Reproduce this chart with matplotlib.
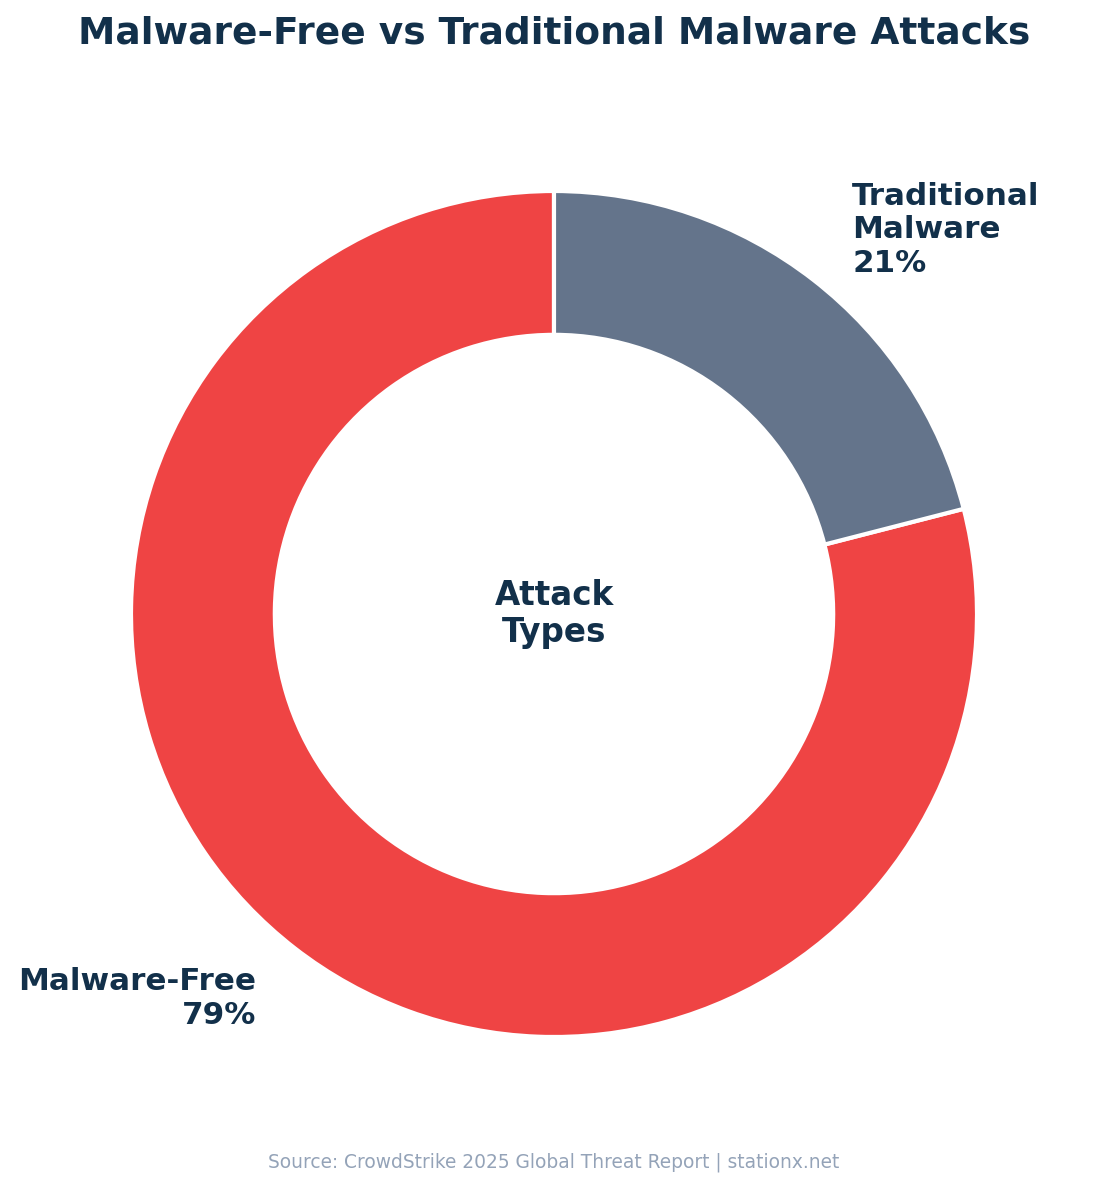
import matplotlib.pyplot as plt

labels = ["Malware-Free", "Traditional\nMalware"]
shares = [79, 21]
colors = ["#EF4444", "#64748B"]

title = "Malware-Free vs Traditional Malware Attacks"
center_text = "Attack\nTypes"
source = "Source: CrowdStrike 2025 Global Threat Report | stationx.net"
dark = "#12304A"

fig = plt.figure(figsize=(11, 11.87), dpi=100)
W, H = 1100, 1187
r_px = 423
cx, cy = 554, 1187 - 614
half = 1.3
side = 2 * half * r_px
ax = fig.add_axes([(cx - side / 2) / W, (cy - side / 2) / H, side / W, side / H])

pie_labels = [f"{l}\n{s}%" for l, s in zip(labels, shares)]
wedges, texts = ax.pie(shares, labels=pie_labels, colors=colors, startangle=90,
                       labeldistance=1.15, radius=1,
                       wedgeprops=dict(width=0.34, edgecolor="white", linewidth=3))
for t in texts:
    t.set_fontsize(22.3)
    t.set_fontweight("bold")
    t.set_color(dark)
    t.set_linespacing(1.2)

ax.text(0, 0, center_text, ha="center", va="center", fontsize=23.5,
        fontweight="bold", color=dark, linespacing=1.15)
ax.set_xlim(-half, half)
ax.set_ylim(-half, half)
ax.set_aspect("equal")
ax.axis("off")

fig.text(554 / W, 1 - 33 / H, title, ha="center", va="center", fontsize=27,
         fontweight="bold", color=dark)
fig.text(554 / W, 1 - 1162 / H, source, ha="center", va="center", fontsize=13.4,
         color="#94A3B8")

fig.savefig("out.png", dpi=100, facecolor="white")
